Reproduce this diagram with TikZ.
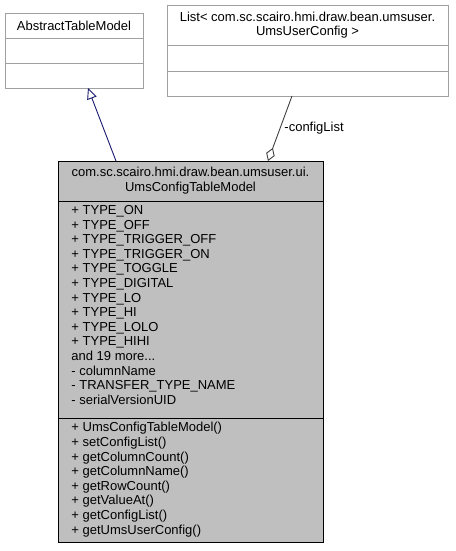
\documentclass[tikz,border=0pt]{standalone}
\usepackage{fontspec}
\setmainfont{Liberation Sans}
\usetikzlibrary{arrows.meta}
\definecolor{boxgray}{HTML}{BFBFBF}
\definecolor{lightedge}{HTML}{A0A0A0}
\definecolor{navy}{HTML}{191970}
\definecolor{aggr}{HTML}{404040}
\tikzset{
  txt/.style={inner sep=0pt, font=\fontsize{13}{14.6}\selectfont},
  inherit/.style={draw=navy, line width=0.9pt, -{Triangle[open, length=11pt, width=10pt]}},
  aggreg/.style={draw=aggr, line width=0.9pt, -{Diamond[open, length=14pt, width=9pt]}},
}
\begin{document}
\begin{tikzpicture}[x=1pt,y=-1pt, line width=0.9pt]
\useasboundingbox (0,0) rectangle (455,551);
% AbstractTableModel
\draw[lightedge, fill=white] (5,13) rectangle (143,88);
\draw[lightedge] (5,38) -- (143,38) (5,63) -- (143,63);
\node[txt] (atm) at (74,25.5) {AbstractTableModel};
\coordinate (atmb) at (88,88);
% List box
\draw[lightedge, fill=white] (167,5) rectangle (448,96);
\draw[lightedge] (167,45) -- (448,45) (167,71) -- (448,71);
\node[txt, align=center] (lst) at (307.5,25) {List< com.sc.scairo.hmi.draw.bean.umsuser.\\UmsUserConfig >};
\coordinate (lstb) at (292,96);
% main class
\draw[black, fill=boxgray] (58,161) rectangle (323,542);
\draw[black] (58,201) -- (323,201) (58,418) -- (323,418);
\node[txt, align=center] (cls) at (190.5,180.5) {com.sc.scairo.hmi.draw.bean.umsuser.ui.\\UmsConfigTableModel};
\node[txt, align=left, anchor=north west] (attrs) at (71,205) {+ TYPE\_ON\\+ TYPE\_OFF\\+ TYPE\_TRIGGER\_OFF\\+ TYPE\_TRIGGER\_ON\\+ TYPE\_TOGGLE\\+ TYPE\_DIGITAL\\+ TYPE\_LO\\+ TYPE\_HI\\+ TYPE\_LOLO\\+ TYPE\_HIHI\\and 19 more...\\- columnName\\- TRANSFER\_TYPE\_NAME\\- serialVersionUID};
\node[txt, align=left, anchor=north west] (meths) at (71,422) {+ UmsConfigTableModel()\\+ setConfigList()\\+ getColumnCount()\\+ getColumnName()\\+ getRowCount()\\+ getValueAt()\\+ getConfigList()\\+ getUmsUserConfig()};
\coordinate (clsa) at (116,161);
\coordinate (clsb) at (268,161);
% connectors
\draw[inherit] (clsa) -- (atmb);
\draw[aggreg] (lstb) -- (clsb);
\node[txt, anchor=west] (lbl) at (284,128) {-configList};
\end{tikzpicture}
\end{document}
